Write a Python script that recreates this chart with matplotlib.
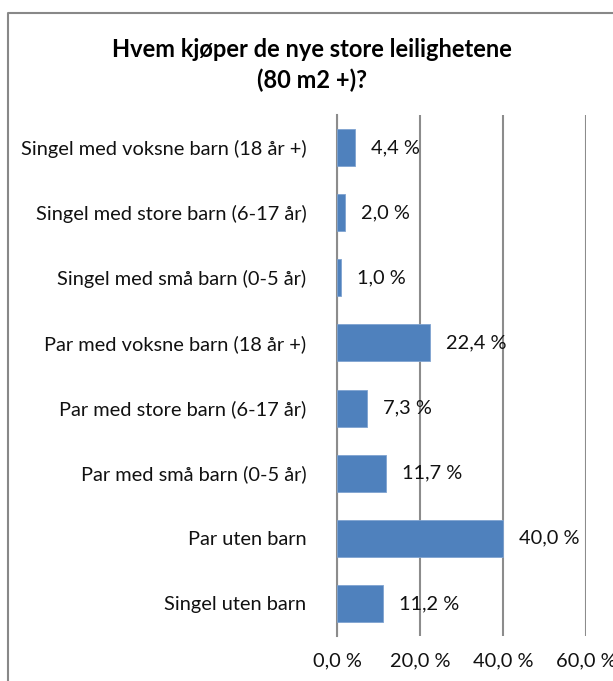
import matplotlib.pyplot as plt
from matplotlib.lines import Line2D

categories = [
    "Singel med voksne barn (18 år +)",
    "Singel med store barn (6-17 år)",
    "Singel med små barn (0-5 år)",
    "Par med voksne barn (18 år +)",
    "Par med store barn (6-17 år)",
    "Par med små barn (0-5 år)",
    "Par uten barn",
    "Singel uten barn",
]
values = [4.4, 2.0, 1.0, 22.4, 7.3, 11.7, 40.0, 11.2]
xticks = [0, 20, 40, 60]

plt.rcParams['font.family'] = ['Lato', 'DejaVu Sans']

fig = plt.figure(figsize=(6.13, 6.81), dpi=100)
ax = fig.add_axes([337 / 613, 45 / 681, (586 - 337) / 613, (636 - 115) / 681])

ypos = list(range(len(categories)))
ax.barh(ypos, values, height=0.57, color='#4F81BD', edgecolor='#7FA3D0', linewidth=0.6, zorder=3)

for y, v in zip(ypos, values):
    lbl = ("%.1f %%" % v).replace('.', ',')
    ax.annotate(lbl, xy=(v, y), xytext=(16, 0), textcoords='offset pixels',
                ha='left', va='center', fontsize=14.4, color='#111111', zorder=4)

ax.set_xlim(0, 60)
ax.set_ylim(len(categories) - 0.5, -0.5)
ax.set_xticks(xticks)
ax.set_xticklabels([("%.1f %%" % t).replace('.', ',') for t in xticks], fontsize=14.4)
ax.set_yticks(ypos)
ax.set_yticklabels(categories, fontsize=14.4)
ax.tick_params(axis='both', length=0, colors='#111111')
ax.tick_params(axis='y', pad=22)
ax.tick_params(axis='x', pad=12)

ax.grid(axis='x', color='#8C8C8C', linewidth=1.5, zorder=1)
for s in ['top', 'right', 'bottom']:
    ax.spines[s].set_visible(False)
ax.spines['left'].set_color('#8C8C8C')
ax.spines['left'].set_linewidth(1.5)

fig.text(312 / 613, 1 - 65 / 681, "Hvem kjøper de nye store leilighetene\n(80 m2 +)?",
         ha='center', va='center', fontsize=17, fontweight='bold', linespacing=1.4)

# chart frame, only the left and top edges are visible in the crop
fig.add_artist(Line2D([8 / 613, 8 / 613, 1.0], [0.0, 1 - 13 / 681, 1 - 13 / 681],
                      color='#888888', linewidth=1.5, transform=fig.transFigure))

fig.savefig('out.png', dpi=100)
